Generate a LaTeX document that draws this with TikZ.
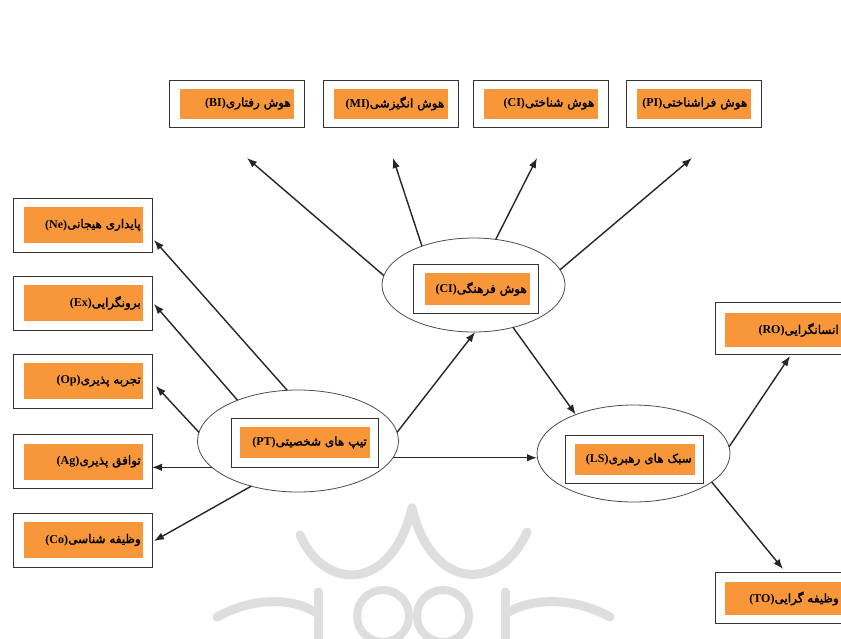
\documentclass[tikz,border=0pt]{standalone}
\usepackage{fontspec}
\setmainfont{Liberation Serif}
\newfontfamily\fa[Script=Arabic,FakeBold=2]{DejaVu Sans}
\TeXXeTstate=1
\usetikzlibrary{shapes.geometric,arrows.meta,calc}
\definecolor{orng}{HTML}{F7973A}
\newcommand\lbl[2]{{\bfseries(#2)}{\fa\beginR #1\endR}}
\begin{document}
\begin{tikzpicture}[x=1pt,y=-1pt,
  obox/.style={draw=black!80, line width=0.8pt, fill=white, inner sep=0pt, outer sep=0pt},
  ofill/.style={fill=orng, inner sep=0pt, outer sep=0pt},
  txt/.style={inner sep=0pt, anchor=east, font=\fontsize{12}{14}\selectfont},
  ell/.style={ellipse, draw=black!70, line width=0.8pt, inner sep=0pt, outer sep=0pt},
  arr/.style={line width=1.4pt, draw=black!85, -{Latex[length=10pt,width=7.5pt]}},
  wm/.style={draw=black!13, line width=9pt, line cap=round}]
\useasboundingbox (0,0) rectangle (841,638);
\fill[white] (0,0) rectangle (841,638);
% watermark
\draw[wm] (300,535) .. controls (325,592) and (392,592) .. (412,508);
\draw[wm] (412,508) .. controls (432,592) and (500,592) .. (527,532);
\draw[wm, line width=8pt] (383,616) circle[radius=26];
\draw[wm, line width=8pt] (443,616) circle[radius=26];
\draw[wm] (318,592) -- (318,645);
\draw[wm] (505,592) -- (505,645);
\draw[wm] (217,617) .. controls (255,596) and (295,598) .. (318,614);
\draw[wm] (610,617) .. controls (572,596) and (530,598) .. (505,614);
% ellipses
\node[ell, minimum width=183pt, minimum height=94pt] (ciE) at (473.5,285) {};
\node[ell, minimum width=201pt, minimum height=102pt] (ptE) at (298,441) {};
\node[ell, minimum width=193pt, minimum height=97pt] (lsE) at (633.5,453.5) {};
% arrow tip coordinates
\coordinate (biA) at (247,158);
\coordinate (miA) at (393,158);
\coordinate (cogA) at (537,158);
\coordinate (piA) at (692,158);
\coordinate (neA) at (154,240);
\coordinate (exA) at (154,304);
\coordinate (opA) at (156,386);
\coordinate (coA) at (154,541);
\coordinate (roA) at (790,356);
\coordinate (toA) at (783,569);
% top boxes
\foreach \n/\x/\t/\a in {bi/237/هوش رفتاری/BI, mi/390.5/هوش انگیزشی/MI, cog/540.5/هوش شناختی/CI, pi/693.5/هوش فراشناختی/PI}{
  \node[obox, minimum width=135pt, minimum height=47pt] (\n) at (\x,103.5) {};
  \node[ofill, minimum width=114pt, minimum height=30pt] (\n F) at (\n) {};
  \node[txt] (\n L) at ($(\n F.east)+(-3,0)$) {\lbl{\t}{\a}};
}
% left boxes
\foreach \n/\y/\t/\a in {ne/225/پایداری هیجانی/Ne, ex/303/برونگرایی/Ex, op/381/تجربه پذیری/Op, ag/461.5/توافق پذیری/Ag, co/540/وظیفه شناسی/Co}{
  \node[obox, minimum width=139pt, minimum height=54pt] (\n) at (82.5,\y) {};
  \node[ofill, minimum width=119pt, minimum height=36pt] (\n F) at (83.5,\y) {};
  \node[txt] (\n L) at ($(\n F.east)+(-2,0)$) {\lbl{\t}{\a}};
}
% inner boxes of ellipses
\node[obox, minimum width=125pt, minimum height=49pt] (ci) at (475.5,288.5) {};
\node[ofill, minimum width=105pt, minimum height=32pt] (ciF) at (477.5,289) {};
\node[txt] (ciL) at ($(ciF.east)+(-3,0)$) {\lbl{هوش فرهنگی}{CI}};
\node[obox, minimum width=147pt, minimum height=49pt] (pt) at (304.5,442.5) {};
\node[ofill, minimum width=130pt, minimum height=31pt] (ptF) at (305,442.5) {};
\node[txt] (ptL) at ($(ptF.east)+(-3,0)$) {\lbl{تیپ های شخصیتی}{PT}};
\node[obox, minimum width=138pt, minimum height=48pt] (ls) at (634,459) {};
\node[ofill, minimum width=120pt, minimum height=31pt] (lsF) at (635,459.5) {};
\node[txt] (lsL) at ($(lsF.east)+(-3,0)$) {\lbl{سبک های رهبری}{LS}};
% right boxes
\node[obox, minimum width=145pt, minimum height=52pt] (ro) at (787.5,328) {};
\node[ofill, minimum width=130pt, minimum height=34pt] (roF) at (790,330) {};
\node[txt] (roL) at (839,330) {\lbl{انسانگرایی}{RO}};
\node[obox, minimum width=145pt, minimum height=51pt] (to) at (787.5,597.5) {};
\node[ofill, minimum width=130pt, minimum height=33pt] (toF) at (790,598.5) {};
\node[txt] (toL) at (839,598.5) {\lbl{وظیفه گرایی}{TO}};
% arrows
\draw[arr] (ciE.174) -- (biA);
\draw[arr] (ciE.143) -- (miA);
\draw[arr] (ciE.64) -- (cogA);
\draw[arr] (ciE.10) -- (piA);
\draw[arr] (ptE.102) -- (neA);
\draw[arr] (ptE.146) -- (exA);
\draw[arr] (ptE.175) -- (opA);
\draw[arr] (ptE.-163) -- (ptE.-163 -| ag.east);
\draw[arr] (ptE.-136) -- (coA);
\draw[arr] (ptE.5) -- (ciE.-88);
\draw[arr] (ptE.-10) -- (ptE.-10 -| lsE.west);
\draw[arr] (ciE.-47) -- (lsE.146);
\draw[arr] (lsE.4) -- (roA);
\draw[arr] (lsE.-20) -- (toA);
\end{tikzpicture}
\end{document}
